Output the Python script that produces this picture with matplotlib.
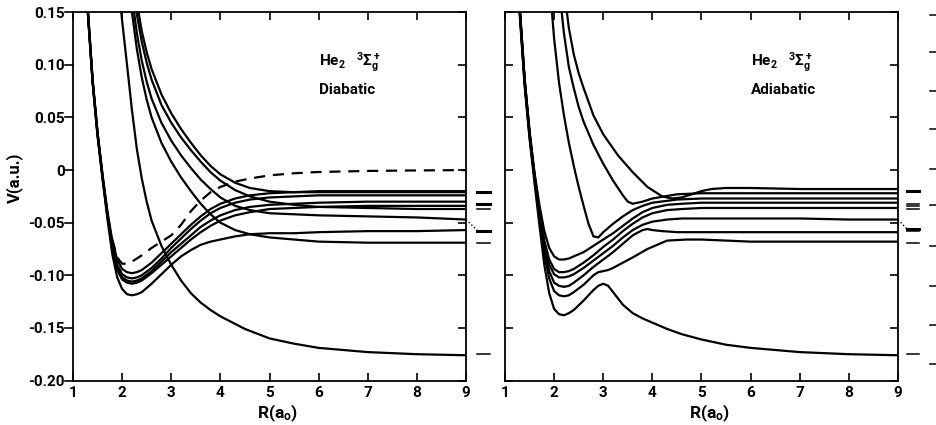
import matplotlib
matplotlib.use("Agg")
import matplotlib.pyplot as plt
from matplotlib.transforms import blended_transform_factory

plt.rcParams['font.family'] = ['Roboto', 'DejaVu Sans']
plt.rcParams['font.weight'] = 'bold'
plt.rcParams['mathtext.fontset'] = 'custom'
plt.rcParams['mathtext.rm'] = 'Roboto:bold'
plt.rcParams['mathtext.it'] = 'Roboto:bold'
plt.rcParams['mathtext.bf'] = 'Roboto:bold'
plt.rcParams['mathtext.default'] = 'rm'

# ---------------- axis ticks ----------------
x_ticks = [1, 2, 3, 4, 5, 6, 7, 8, 9]
x_ticklabels = ["1", "2", "3", "4", "5", "6", "7", "8", "9"]
y_ticks = [0.15, 0.10, 0.05, 0.0, -0.05, -0.10, -0.15, -0.20]
y_ticklabels = ["0.15", "0.10", "0.05", "0", "-0.05", "-0.10", "-0.15", "-0.20"]

# ---------------- Diabatic panel ----------------
R_att = [1.25, 1.3, 1.4, 1.5, 1.6, 1.7, 1.8, 1.9, 2.0, 2.1, 2.2, 2.3, 2.4, 2.6, 2.8,
         3.0, 3.2, 3.4, 3.6, 3.8, 4.0, 4.3, 4.6, 5.0, 5.5, 6.0, 7.0, 8.0, 9.0]
dia_A1 = [0.200, 0.150, 0.082, 0.032, -0.008, -0.046, -0.080, -0.102, -0.113, -0.118, -0.119, -0.118,
          -0.116, -0.108, -0.099, -0.090, -0.082, -0.076, -0.071, -0.068, -0.066, -0.063, -0.061,
          -0.060, -0.060, -0.059, -0.058, -0.058, -0.057]
dia_A2 = [0.205, 0.152, 0.084, 0.034, -0.006, -0.043, -0.075, -0.095, -0.104, -0.107, -0.108, -0.107,
          -0.105, -0.098, -0.090, -0.082, -0.074, -0.066, -0.059, -0.053, -0.048, -0.043, -0.040,
          -0.037, -0.036, -0.035, -0.034, -0.034, -0.034]
dia_A3 = [0.205, 0.152, 0.084, 0.034, -0.006, -0.042, -0.073, -0.093, -0.102, -0.105, -0.106, -0.105,
          -0.103, -0.096, -0.087, -0.078, -0.070, -0.062, -0.054, -0.048, -0.043, -0.038, -0.035,
          -0.033, -0.032, -0.031, -0.030, -0.030, -0.030]
dia_A4 = [0.205, 0.153, 0.085, 0.035, -0.005, -0.041, -0.071, -0.090, -0.099, -0.102, -0.103, -0.102,
          -0.100, -0.093, -0.084, -0.074, -0.065, -0.056, -0.048, -0.041, -0.036, -0.031, -0.028,
          -0.026, -0.025, -0.024, -0.024, -0.024, -0.024]
dia_A5 = [0.210, 0.154, 0.086, 0.036, -0.004, -0.039, -0.067, -0.085, -0.094, -0.097, -0.098, -0.097,
          -0.095, -0.088, -0.079, -0.070, -0.061, -0.052, -0.044, -0.037, -0.032, -0.027, -0.024,
          -0.022, -0.021, -0.020, -0.020, -0.020, -0.020]

R_dash = [1.8, 1.9, 2.0, 2.1, 2.2, 2.4, 2.6, 2.8, 3.0, 3.2, 3.4, 3.6, 3.8, 4.0, 4.3, 4.6,
          5.0, 5.5, 6.0, 7.0, 8.0, 9.0]
dia_dash = [-0.066, -0.083, -0.089, -0.089, -0.087, -0.081, -0.074, -0.068, -0.062, -0.052, -0.039,
            -0.029, -0.021, -0.016, -0.011, -0.008, -0.005, -0.003, -0.0018, -0.0008, -0.0003, 0.0]

R_rp1 = [1.93, 2.0, 2.1, 2.2, 2.3, 2.4, 2.5, 2.6, 2.8, 3.0, 3.2, 3.4, 3.6, 3.8, 4.0, 4.5,
         5.0, 5.5, 6.0, 7.0, 8.0, 9.0]
dia_rp1 = [0.175, 0.142, 0.100, 0.057, 0.020, -0.008, -0.030, -0.048, -0.072, -0.090, -0.105,
           -0.117, -0.126, -0.133, -0.139, -0.151, -0.160, -0.165, -0.169, -0.173, -0.175, -0.176]
R_rp2 = [2.15, 2.2, 2.3, 2.4, 2.5, 2.6, 2.8, 3.0, 3.2, 3.4, 3.6, 3.8, 4.0, 4.3, 4.6, 5.0,
         5.5, 6.0, 7.0, 8.0, 9.0]
dia_rp2 = [0.175, 0.150, 0.115, 0.088, 0.067, 0.050, 0.026, 0.008, -0.007, -0.020, -0.032, -0.042,
           -0.050, -0.057, -0.061, -0.064, -0.066, -0.068, -0.069, -0.069, -0.069]
R_rp3 = [2.2, 2.3, 2.4, 2.5, 2.6, 2.8, 3.0, 3.2, 3.4, 3.6, 3.8, 4.0, 4.3, 4.6, 5.0, 5.5,
         6.0, 7.0, 8.0, 9.0]
dia_rp3 = [0.165, 0.130, 0.104, 0.084, 0.068, 0.045, 0.028, 0.014, 0.002, -0.009, -0.018, -0.026,
           -0.034, -0.038, -0.041, -0.042, -0.043, -0.044, -0.045, -0.047]
R_rp4 = [2.25, 2.3, 2.4, 2.5, 2.6, 2.8, 3.0, 3.2, 3.4, 3.6, 3.8, 4.0, 4.3, 4.6, 5.0, 5.5,
         6.0, 7.0, 8.0, 9.0]
dia_rp4 = [0.165, 0.148, 0.122, 0.102, 0.086, 0.062, 0.045, 0.031, 0.019, 0.008, -0.002, -0.010,
           -0.019, -0.025, -0.030, -0.033, -0.035, -0.036, -0.037, -0.037]
R_rp5 = [2.3, 2.4, 2.5, 2.6, 2.8, 3.0, 3.2, 3.4, 3.6, 3.8, 4.0, 4.3, 4.6, 5.0, 5.5, 6.0,
         7.0, 8.0, 9.0]
dia_rp5 = [0.160, 0.132, 0.112, 0.096, 0.072, 0.054, 0.039, 0.026, 0.014, 0.004, -0.004, -0.012,
           -0.017, -0.020, -0.021, -0.021, -0.021, -0.021, -0.021]

# ---------------- Adiabatic panel ----------------
R_c1 = [1.25, 1.3, 1.4, 1.5, 1.6, 1.7, 1.8, 1.9, 2.0, 2.1, 2.2, 2.3, 2.4, 2.6, 2.8, 2.9,
        3.0, 3.1, 3.2, 3.4, 3.6, 3.8, 4.0, 4.3, 4.6, 5.0, 5.5, 6.0, 7.0, 8.0, 9.0]
adi_c1 = [0.195, 0.148, 0.080, 0.030, -0.012, -0.052, -0.090, -0.117, -0.132, -0.137, -0.138,
          -0.136, -0.133, -0.124, -0.114, -0.110, -0.108, -0.110, -0.116, -0.128, -0.136, -0.141,
          -0.145, -0.151, -0.156, -0.161, -0.166, -0.169, -0.173, -0.175, -0.176]
R_c2 = [1.25, 1.3, 1.4, 1.5, 1.6, 1.7, 1.8, 1.9, 2.0, 2.1, 2.2, 2.3, 2.4, 2.6, 2.8, 2.9,
        3.0, 3.1, 3.2, 3.4, 3.6, 3.9, 4.3, 4.7, 5.0, 5.5, 6.0, 7.0, 8.0, 9.0]
adi_c2 = [0.200, 0.150, 0.082, 0.032, -0.008, -0.046, -0.080, -0.103, -0.115, -0.119, -0.120,
          -0.119, -0.116, -0.109, -0.100, -0.097, -0.096, -0.095, -0.093, -0.088, -0.083, -0.075,
          -0.067, -0.066, -0.066, -0.067, -0.068, -0.068, -0.068, -0.068]
R_c3 = [1.25, 1.3, 1.4, 1.5, 1.6, 1.7, 1.8, 1.9, 2.0, 2.1, 2.2, 2.3, 2.4, 2.6, 2.8, 3.0,
        3.2, 3.4, 3.6, 3.8, 3.9, 4.0, 4.2, 4.5, 5.0, 6.0, 7.0, 8.0, 9.0]
adi_c3 = [0.205, 0.152, 0.084, 0.034, -0.006, -0.043, -0.075, -0.096, -0.107, -0.110, -0.111,
          -0.110, -0.107, -0.100, -0.092, -0.085, -0.078, -0.070, -0.062, -0.057, -0.056, -0.057,
          -0.058, -0.059, -0.059, -0.059, -0.059, -0.059, -0.059]
R_c456 = [1.25, 1.3, 1.4, 1.5, 1.6, 1.7, 1.8, 1.9, 2.0, 2.1, 2.2, 2.3, 2.4, 2.6, 2.8, 3.0,
          3.2, 3.4, 3.6, 3.8, 4.0, 4.3, 4.6, 5.0, 6.0, 7.0, 8.0, 9.0]
adi_c4 = [0.205, 0.153, 0.085, 0.035, -0.005, -0.041, -0.071, -0.090, -0.099, -0.102, -0.102,
          -0.101, -0.099, -0.093, -0.086, -0.079, -0.072, -0.064, -0.057, -0.052, -0.049, -0.047,
          -0.046, -0.046, -0.046, -0.046, -0.047, -0.047]
adi_c5 = [0.210, 0.154, 0.086, 0.036, -0.004, -0.039, -0.067, -0.085, -0.094, -0.097, -0.097,
          -0.096, -0.094, -0.088, -0.081, -0.073, -0.066, -0.058, -0.051, -0.045, -0.041, -0.038,
          -0.037, -0.036, -0.036, -0.036, -0.036, -0.036]
adi_c6 = [0.210, 0.155, 0.087, 0.037, -0.002, -0.033, -0.058, -0.074, -0.082, -0.085, -0.085,
          -0.084, -0.082, -0.078, -0.072, -0.066, -0.060, -0.053, -0.046, -0.040, -0.036, -0.033,
          -0.032, -0.031, -0.031, -0.031, -0.031, -0.031]
R_c7 = [1.93, 2.0, 2.1, 2.2, 2.3, 2.4, 2.5, 2.6, 2.7, 2.8, 2.9, 3.0, 3.2, 3.4, 3.6, 3.8,
        4.0, 4.5, 5.0, 6.0, 7.0, 8.0, 9.0]
adi_c7 = [0.165, 0.125, 0.083, 0.052, 0.026, 0.004, -0.016, -0.034, -0.051, -0.063, -0.064,
          -0.059, -0.051, -0.044, -0.038, -0.034, -0.031, -0.028, -0.027, -0.027, -0.027, -0.027,
          -0.027]
R_c8 = [2.12, 2.2, 2.3, 2.4, 2.5, 2.6, 2.8, 3.0, 3.2, 3.4, 3.5, 3.6, 3.8, 4.0, 4.5, 5.0,
        6.0, 7.0, 8.0, 9.0]
adi_c8 = [0.165, 0.130, 0.098, 0.078, 0.060, 0.046, 0.024, 0.006, -0.010, -0.024, -0.030, -0.032,
          -0.030, -0.027, -0.023, -0.022, -0.022, -0.022, -0.022, -0.022]
R_c9 = [2.22, 2.3, 2.4, 2.5, 2.6, 2.8, 3.0, 3.3, 3.6, 3.9, 4.2, 4.4, 4.6, 4.8, 5.0, 5.2,
        5.5, 6.0, 7.0, 8.0, 9.0]
adi_c9 = [0.165, 0.135, 0.110, 0.092, 0.078, 0.052, 0.034, 0.014, -0.002, -0.016, -0.025, -0.027,
          -0.026, -0.023, -0.020, -0.018, -0.017, -0.017, -0.018, -0.018, -0.018]

# atomic-limit markers beside each panel
limits_left = [-0.021, -0.032, -0.037, -0.058, -0.069, -0.175]
limits_left_thick = [True, True, False, True, False, False]
limits_right = [-0.020, -0.032, -0.034, -0.037, -0.056, -0.058, -0.069, -0.175]
limits_right_thick = [True, False, False, False, True, False, False, False]
stray_ticks = [0.147, 0.112, 0.075, 0.039, 0.001, -0.033, -0.072, -0.110, -0.147, -0.184]

# ---------------- figure ----------------
fig = plt.figure(figsize=(9.37, 4.25), dpi=100)
axL = fig.add_axes([73 / 937, 1 - 380.5 / 425, 393 / 937, 368.2 / 425])
axR = fig.add_axes([505 / 937, 1 - 380.5 / 425, 393 / 937, 368.2 / 425])

LW = 1.6
for V in [dia_A1, dia_A2, dia_A3, dia_A4, dia_A5]:
    axL.plot(R_att, V, color='black', lw=LW)
axL.plot(R_dash, dia_dash, color='black', lw=LW, linestyle=(0, (5, 3.5)))
for R, V in [(R_rp1, dia_rp1), (R_rp2, dia_rp2), (R_rp3, dia_rp3), (R_rp4, dia_rp4), (R_rp5, dia_rp5)]:
    axL.plot(R, V, color='black', lw=LW)

for R, V in [(R_c1, adi_c1), (R_c2, adi_c2), (R_c3, adi_c3), (R_c456, adi_c4), (R_c456, adi_c5),
             (R_c456, adi_c6), (R_c7, adi_c7), (R_c8, adi_c8), (R_c9, adi_c9)]:
    axR.plot(R, V, color='black', lw=LW)

for ax in (axL, axR):
    ax.set_xlim(1, 9)
    ax.set_ylim(-0.20, 0.15)
    ax.set_xticks(x_ticks)
    ax.set_xticklabels(x_ticklabels)
    ax.set_yticks(y_ticks)
    for s in ax.spines.values():
        s.set_linewidth(1.3)
    ax.tick_params(axis='x', direction='in', length=6, width=1.2, top=True, bottom=True,
                   labelsize=11, pad=4)
    ax.tick_params(axis='y', direction='in', length=6, width=1.2, left=True, right=True,
                   labelsize=11)
    ax.set_xlabel(r'R(a$_o$)', fontsize=12.5, fontweight='bold')
    ax.xaxis.set_label_coords(0.52, -0.06)
    ax.xaxis.label.set_va('top')

axL.set_yticklabels(y_ticklabels)
axL.tick_params(axis='y', which='both', left=False, pad=6)
axR.set_yticklabels([])
# outward left ticks for the labelled panel
transL = blended_transform_factory(axL.transAxes, axL.transData)
for v in y_ticks:
    axL.plot([-0.02, 0.0], [v, v], color='black', lw=1.2, transform=transL, clip_on=False)

fig.text(14 / 937, 1 - 178 / 425, 'V(a.u.)', rotation=90, ha='center', va='center',
         fontsize=12, fontweight='bold')

for ax, name in ((axL, 'Diabatic'), (axR, 'Adiabatic')):
    ax.text(6.0, 0.103, r'He$_2$   $^3\Sigma_g^+$', fontsize=11, fontweight='bold',
            ha='left', va='center')
    ax.text(6.0, 0.076, name, fontsize=11, fontweight='bold', ha='left', va='center')

# limit markers
for v, thick in zip(limits_left, limits_left_thick):
    axL.plot([1.028, 1.061], [v, v], color='black', lw=2.2 if thick else 1.1,
             transform=transL, clip_on=False)
axL.plot([1.0, 1.028], [-0.047, -0.057], color='black', lw=1.0, linestyle=':',
         transform=transL, clip_on=False)

transR = blended_transform_factory(axR.transAxes, axR.transData)
for v, thick in zip(limits_right, limits_right_thick):
    axR.plot([1.023, 1.053], [v, v], color='black', lw=2.2 if thick else 1.1,
             transform=transR, clip_on=False)
axR.plot([1.0, 1.023], [-0.047, -0.056], color='black', lw=1.0, linestyle=':',
         transform=transR, clip_on=False)
for v in stray_ticks:
    axR.plot([1.081, 1.10], [v, v], color='black', lw=1.1, transform=transR, clip_on=False)

fig.savefig('out.png', dpi=100)
